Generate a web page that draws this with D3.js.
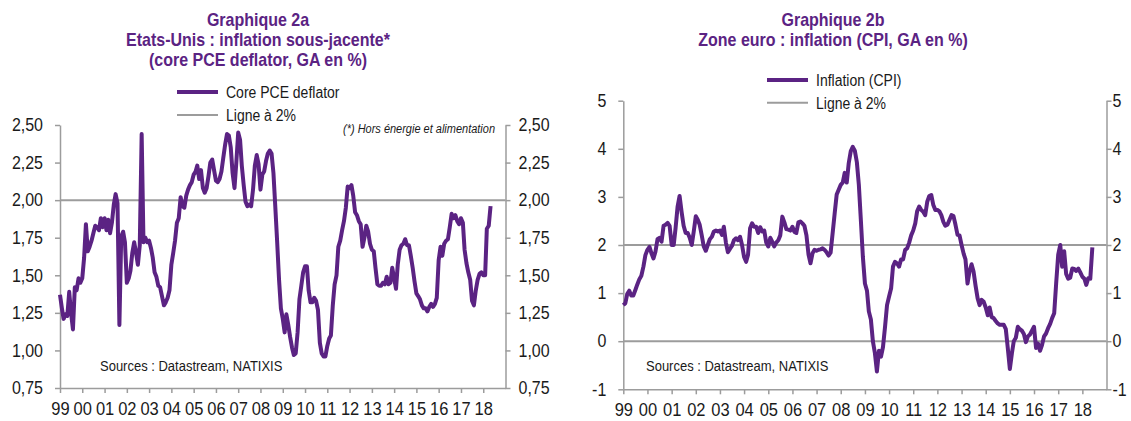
<!DOCTYPE html>
<html>
<head>
<meta charset="utf-8">
<script src="https://cdn.jsdelivr.net/npm/d3@7"></script>
<style>
  body { margin: 0; background: #fff; }
  svg { font-family: "Liberation Sans", Arial, sans-serif; display: block; }
</style>
</head>
<body>
<div id="chart"></div>
<script>
// monthly values, Jan 1999 onwards
const usCorePce = [
  1.37, 1.28, 1.21, 1.24, 1.23, 1.39, 1.25, 1.14, 1.42, 1.40, 1.48, 1.45,
  1.48, 1.62, 1.84, 1.66, 1.69, 1.73, 1.78, 1.83, 1.82, 1.80, 1.88, 1.82,
  1.88, 1.80, 1.87, 1.78, 1.85, 1.97, 2.04, 1.98, 1.17, 1.76, 1.79, 1.72,
  1.45, 1.48, 1.53, 1.65, 1.72, 1.65, 1.57, 1.70, 2.44, 1.72, 1.75, 1.72,
  1.73, 1.68, 1.62, 1.52, 1.49, 1.43, 1.42, 1.36, 1.30, 1.32, 1.35, 1.40,
  1.57, 1.65, 1.73, 1.85, 1.88, 2.02, 1.96, 1.95, 2.03, 2.07, 2.10, 2.12,
  2.17, 2.19, 2.23, 2.14, 2.20, 2.08, 2.05, 2.08, 2.16, 2.25, 2.27, 2.20,
  2.13, 2.12, 2.14, 2.19, 2.28, 2.37, 2.44, 2.43, 2.35, 2.18, 2.08, 2.25,
  2.45, 2.40, 2.23, 2.10, 1.99, 1.96, 1.97, 1.96, 2.07, 2.23, 2.30, 2.24,
  2.07, 2.17, 2.19, 2.26, 2.31, 2.33, 2.31, 2.18, 1.95, 1.72, 1.47, 1.28,
  1.21, 1.12, 1.24, 1.17, 1.09, 1.02, 0.97, 0.98, 1.12, 1.34, 1.43, 1.52,
  1.56, 1.56, 1.40, 1.32, 1.32, 1.35, 1.33, 1.27, 1.05, 0.98, 0.96, 0.96,
  1.03, 1.08, 1.10, 1.30, 1.44, 1.50, 1.69, 1.73, 1.80, 1.86, 1.95, 2.09,
  2.08, 2.10, 2.03, 1.92, 1.90, 1.86, 1.84, 1.69, 1.75, 1.83, 1.79, 1.71,
  1.67, 1.66, 1.55, 1.44, 1.43, 1.43, 1.45, 1.44, 1.49, 1.44, 1.45, 1.55,
  1.48, 1.41, 1.57, 1.67, 1.70, 1.71, 1.74, 1.70, 1.70, 1.63, 1.55, 1.46,
  1.38, 1.36, 1.34, 1.30, 1.28, 1.28, 1.26, 1.29, 1.31, 1.29, 1.31, 1.35,
  1.60, 1.69, 1.63, 1.71, 1.73, 1.74, 1.82, 1.91, 1.88, 1.90, 1.86, 1.84,
  1.88, 1.85, 1.67, 1.58, 1.52, 1.47, 1.33, 1.30, 1.40, 1.47, 1.51, 1.52,
  1.50, 1.50, 1.81, 1.83, 1.96
];
const ezCpi = [
  0.75, 0.79, 0.98, 1.05, 0.95, 0.95, 1.06, 1.18, 1.29, 1.36, 1.55, 1.79,
  1.90, 1.96, 1.83, 1.72, 1.86, 2.12, 2.15, 2.07, 2.40, 2.42, 2.46, 2.40,
  2.00, 2.00, 2.35, 2.80, 3.02, 2.68, 2.40, 2.25, 2.25, 2.15, 2.00, 2.28,
  2.60, 2.52, 2.42, 2.20, 1.97, 1.88, 2.00, 2.12, 2.17, 2.28, 2.30, 2.28,
  2.30, 2.21, 2.38, 2.05, 1.85, 1.92, 1.98, 2.10, 2.14, 2.10, 2.17, 2.00,
  1.75, 1.65, 1.80, 2.35, 2.45, 2.38, 2.38, 2.25, 2.37, 2.28, 2.30, 2.05,
  1.97, 2.15, 2.07, 1.97, 2.05, 2.10, 2.20, 2.59, 2.47, 2.33, 2.32, 2.30,
  2.38, 2.27, 2.25, 2.47, 2.49, 2.45, 2.40, 2.20, 1.80, 1.62, 1.83, 1.90,
  1.88, 1.90, 1.91, 1.93, 1.90, 1.85, 1.78, 1.84, 2.25, 2.65, 3.05, 3.15,
  3.25, 3.30, 3.50, 3.30, 3.70, 3.95, 4.04, 3.96, 3.72, 3.25, 2.50, 1.75,
  1.20, 1.05, 0.62, 0.45, 0.00, -0.25, -0.63, -0.20, -0.32, -0.12, 0.30, 0.75,
  0.93, 1.10, 1.55, 1.65, 1.62, 1.55, 1.70, 1.70, 1.90, 1.93, 2.05, 2.20,
  2.30, 2.45, 2.70, 2.80, 2.73, 2.69, 2.62, 2.90, 3.02, 3.04, 2.83, 2.73,
  2.73, 2.70, 2.62, 2.48, 2.40, 2.42, 2.52, 2.62, 2.60, 2.42, 2.21, 2.20,
  2.00, 1.82, 1.70, 1.20, 1.45, 1.60, 1.45, 1.15, 0.89, 0.75, 0.86, 0.82,
  0.70, 0.54, 0.70, 0.50, 0.48, 0.42, 0.37, 0.34, 0.34, 0.34, 0.25, -0.15,
  -0.58, -0.25, 0.00, 0.07, 0.30, 0.25, 0.22, 0.15, -0.02, 0.10, 0.14, 0.22,
  0.30, -0.14, -0.05, -0.20, -0.08, 0.10, 0.16, 0.27, 0.36, 0.48, 0.58, 1.20,
  1.80, 2.00, 1.55, 1.87, 1.40, 1.30, 1.32, 1.51, 1.50, 1.46, 1.51, 1.43,
  1.34, 1.30, 1.17, 1.31, 1.30, 1.95
];

const yearLabels = ['99', '00', '01', '02', '03', '04', '05', '06', '07', '08',
  '09', '10', '11', '12', '13', '14', '15', '16', '17', '18'];
const usTicks = [0.75, 1.00, 1.25, 1.50, 1.75, 2.00, 2.25, 2.50];
const usTickLabels = ['0,75', '1,00', '1,25', '1,50', '1,75', '2,00', '2,25', '2,50'];
const ezTicks = [-1, 0, 1, 2, 3, 4, 5];
const ezTickLabels = ['-1', '0', '1', '2', '3', '4', '5'];
const usTitle = ['Graphique 2a', 'Etats-Unis : inflation sous-jacente*', '(core PCE deflator, GA en %)'];
const ezTitle = ['Graphique 2b', 'Zone euro : inflation (CPI, GA en %)'];

const purple = '#5b2383';
const grey = '#9c9c9c';
const ink = '#1a1a1a';
const S = 1.13; // text in the picture is a bit taller than wide

const svg = d3.select('#chart').append('svg')
  .attr('width', 1131)
  .attr('height', 421);

function label(g, x, y, str, o = {}) {
  return g.append('text')
    .attr('transform', `translate(${x},${y}) scale(1,${S})`)
    .attr('text-anchor', o.anchor || 'start')
    .attr('font-size', o.size || 14)
    .attr('font-weight', o.weight || 'normal')
    .attr('font-style', o.style || 'normal')
    .attr('fill', o.fill || ink)
    .text(str);
}

function panel(p) {
  const g = svg.append('g');
  const x = d3.scaleTime()
    .domain([new Date(1999, 0, 1), new Date(2019, 0, 1)])
    .range([p.x0, p.x1]);
  const y = d3.scaleLinear().domain(p.domain).range([p.y0, p.y1]);

  // titles
  p.title.forEach((t, i) => label(g, p.titleX, 26 + i * 20, t, { anchor: 'middle', size: 16, weight: 'bold', fill: purple }));

  // reference lines
  p.refLines.forEach(v => {
    g.append('line')
      .attr('x1', p.x0).attr('x2', p.x1)
      .attr('y1', y(v)).attr('y2', y(v))
      .attr('stroke', grey).attr('stroke-width', 2);
  });

  // axes
  const yearTicks = yearLabels.map((d, i) => new Date(1999 + i, 0, 1));
  const styleAxis = sel => {
    sel.attr('font-family', null).attr('font-size', null);
    sel.selectAll('path, line').attr('stroke', grey).attr('stroke-width', 1.5);
    sel.selectAll('text').attr('fill', ink);
  };

  g.append('g').attr('transform', `translate(0,${p.y0})`)
    .call(d3.axisBottom(x).tickValues(yearTicks).tickFormat((d, i) => yearLabels[i]).tickSize(5).tickSizeOuter(0))
    .call(styleAxis)
    .call(a => a.selectAll('text').attr('font-size', 16.5).attr('y', p.xLabelGap / S).attr('dy', 0)
      .attr('transform', `scale(1,${S})`));

  g.append('g').attr('transform', `translate(${p.x0},0)`)
    .call(d3.axisLeft(y).tickValues(p.ticks).tickFormat((d, i) => p.tickLabels[i]).tickSize(5).tickSizeOuter(0).tickPadding(p.padL))
    .call(styleAxis)
    .call(a => a.selectAll('text').attr('font-size', 16).attr('transform', `scale(1,${S})`));

  g.append('g').attr('transform', `translate(${p.x1},0)`)
    .call(d3.axisRight(y).tickValues(p.ticks).tickFormat((d, i) => p.tickLabels[i]).tickSize(5).tickSizeOuter(0).tickPadding(p.padR))
    .call(styleAxis)
    .call(a => a.selectAll('text').attr('font-size', 16).attr('transform', `scale(1,${S})`));

  // series
  const line = d3.line()
    .x((d, i) => x(new Date(1999, i, 1)))
    .y(d => y(d));
  g.append('path')
    .datum(p.values)
    .attr('d', line)
    .attr('fill', 'none')
    .attr('stroke', purple)
    .attr('stroke-width', 4)
    .attr('stroke-linejoin', 'round');

  // legend
  const lg = [[p.legend, purple, 4], ['Ligne à 2%', grey, 2]];
  lg.forEach(([name, col, w], i) => {
    const ly = p.legY + i * p.legStep;
    g.append('line')
      .attr('x1', p.legX).attr('x2', p.legX + 41)
      .attr('y1', ly).attr('y2', ly)
      .attr('stroke', col).attr('stroke-width', w);
    label(g, p.legX + 49, ly + 6, name, { size: 14 });
  });

  label(g, p.srcX, 371, 'Sources : Datastream, NATIXIS', { size: 13 });
  return g;
}

const us = panel({
  values: usCorePce, domain: [0.75, 2.5], ticks: usTicks, tickLabels: usTickLabels,
  x0: 60, x1: 505.5, y0: 388, y1: 125, padL: 12, padR: 8, xLabelGap: 27,
  title: usTitle, titleX: 258, refLines: [2],
  legend: 'Core PCE deflator', legX: 177, legY: 92, legStep: 23, srcX: 100
});
label(us, 495, 133, '(*) Hors énergie et alimentation', { anchor: 'end', size: 11, style: 'italic' });

panel({
  values: ezCpi, domain: [-1, 5], ticks: ezTicks, tickLabels: ezTickLabels,
  x0: 623.3, x1: 1106.5, y0: 389.3, y1: 100.7, padL: 12, padR: 1, xLabelGap: 27,
  title: ezTitle, titleX: 833, refLines: [2, 0],
  legend: 'Inflation (CPI)', legX: 767, legY: 80, legStep: 22.7, srcX: 646
});
</script>
</body>
</html>
